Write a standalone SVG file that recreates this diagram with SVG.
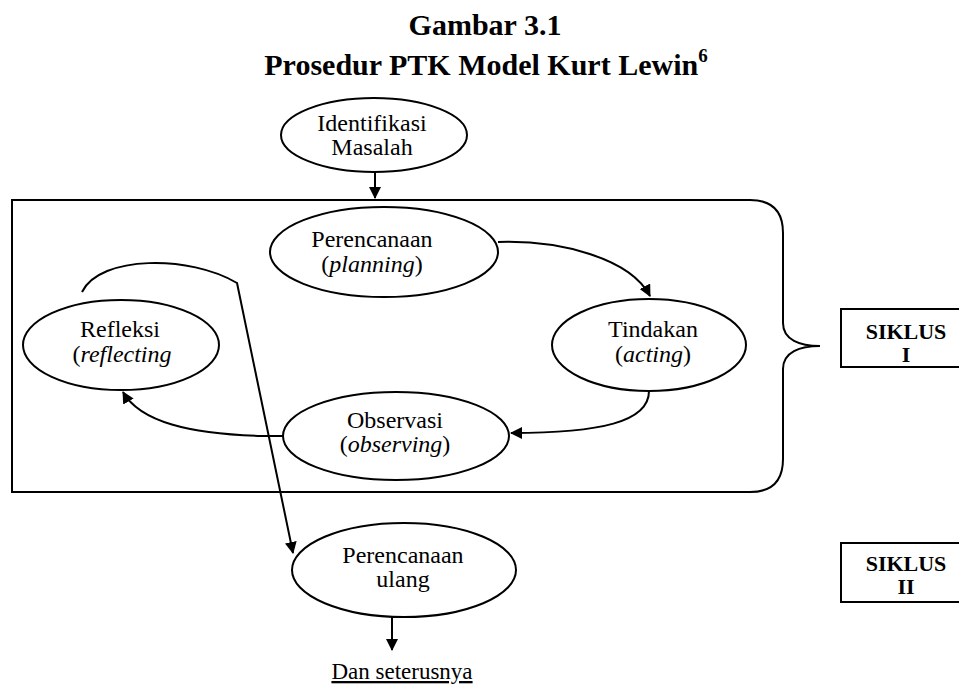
<svg xmlns="http://www.w3.org/2000/svg" width="959" height="687" viewBox="0 0 959 687">
<style>
.t{font-family:"Liberation Serif","Times New Roman",serif;font-size:24px;fill:#000;text-anchor:middle}
.b{font-weight:bold}
.i{font-style:italic}
.ttl{font-size:30px}
.sup{font-size:19px}
.sk{font-size:22px}
.dan{font-size:23px;text-decoration:underline}
.s{fill:none;stroke:#000;stroke-width:2}
.e{fill:#fff;stroke:#000;stroke-width:2}
</style>
<defs>
<marker id="ah" markerWidth="12" markerHeight="12" refX="11" refY="6" orient="auto" markerUnits="userSpaceOnUse">
<path d="M0,0 L12,6 L0,12 Z" fill="#000"/>
</marker>
</defs>
<rect width="959" height="687" fill="#fff"/>
<g id="title">
<text class="t b ttl" x="485" y="35">Gambar 3.1</text>
<text class="t b ttl" x="486" y="75">Prosedur PTK Model Kurt Lewin<tspan class="sup" dy="-13">6</tspan></text>
</g>
<g id="siklus-frame">
<path class="s" d="M12,200 H750 Q783,200 783,233 V323 C783,340 800,346 820,346 C800,346 783,352 783,369 V459 Q783,492 750,492 H12 Z"/>
</g>
<g id="connectors">
<path class="s" d="M375,172 V198" marker-end="url(#ah)"/>
<path class="s" d="M498,242 C560,240 630,258 650,296" marker-end="url(#ah)"/>
<path class="s" d="M649,391 C649,422 600,433 511,433" marker-end="url(#ah)"/>
<path class="s" d="M283,436 L262,436 C190,434 140,422 123,392" marker-end="url(#ah)"/>
<path class="s" d="M82,292 C100,255 190,255 237,283 L293,553" marker-end="url(#ah)"/>
<path class="s" d="M392,617 V650" marker-end="url(#ah)"/>
</g>
<g id="identifikasi">
<ellipse class="e" cx="374" cy="135" rx="93" ry="37"/>
<text class="t" x="372" y="131">Identifikasi</text>
<text class="t" x="372" y="155">Masalah</text>
</g>
<g id="perencanaan">
<ellipse class="e" cx="384" cy="252" rx="114" ry="45"/>
<text class="t" x="372" y="247">Perencanaan</text>
<text class="t" x="372" y="272">(<tspan class="i">planning</tspan>)</text>
</g>
<g id="tindakan">
<ellipse class="e" cx="649" cy="345" rx="97" ry="46"/>
<text class="t" x="653" y="337">Tindakan</text>
<text class="t" x="653" y="362">(<tspan class="i">acting</tspan>)</text>
</g>
<g id="observasi">
<ellipse class="e" cx="396" cy="436" rx="113" ry="44"/>
<text class="t" x="395" y="428">Observasi</text>
<text class="t" x="395" y="452">(<tspan class="i">observing</tspan>)</text>
</g>
<g id="refleksi">
<ellipse class="e" cx="121" cy="345" rx="98" ry="45"/>
<text class="t" x="120" y="337">Refleksi</text>
<text class="t" x="122" y="362">(<tspan class="i">reflecting</tspan></text>
</g>
<g id="perencanaan-ulang">
<ellipse class="e" cx="404" cy="570" rx="112" ry="47"/>
<text class="t" x="403" y="563">Perencanaan</text>
<text class="t" x="403" y="587">ulang</text>
</g>
<g id="dan-seterusnya">
<text class="t dan" x="402" y="679">Dan seterusnya</text>
</g>
<g id="siklus1">
<rect class="e" x="841" y="309" width="130" height="58"/>
<text class="t b sk" x="906" y="339">SIKLUS</text>
<text class="t b sk" x="906" y="362">I</text>
</g>
<g id="siklus2">
<rect class="e" x="841" y="543" width="130" height="59"/>
<text class="t b sk" x="906" y="571">SIKLUS</text>
<text class="t b sk" x="906" y="594">II</text>
</g>
</svg>
